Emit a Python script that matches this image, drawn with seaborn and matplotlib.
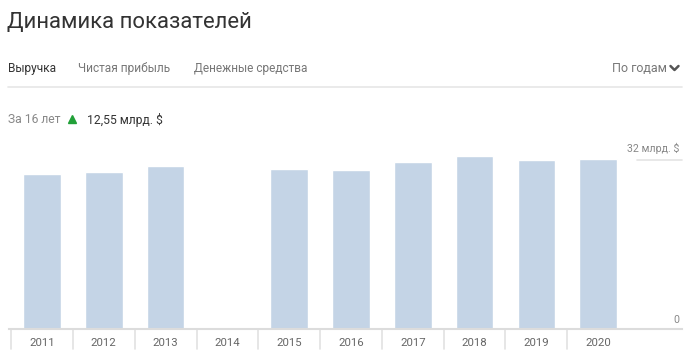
import matplotlib
matplotlib.use("Agg")
import matplotlib.pyplot as plt
from matplotlib.lines import Line2D
import numpy as np
import pandas as pd
import seaborn as sns

# ---- data ----
years = ["2011", "2012", "2013", "2014", "2015", "2016", "2017", "2018", "2019", "2020"]
revenue = [29.25, 29.68, 30.87, np.nan, 30.24, 30.06, 31.62, 32.7, 32.0, 32.13]
tabs = ["Выручка", "Чистая прибыль", "Денежные средства"]
title = "Динамика показателей"
period_label = "По годам"
summary_label = "За 16 лет"
summary_value = "12,55 млрд. $"
top_label = "32 млрд. $"
zero_label = "0"
y_top_value = 32

sns.set_theme(style="white")
plt.rcParams["font.family"] = ["Roboto", "DejaVu Sans"]

W, H = 700, 359
fig = plt.figure(figsize=(W / 100, H / 100), dpi=100)
fig.patch.set_facecolor("white")

def fx(x):
    return x / W

def fy(y):
    return 1 - y / H

base_px = 329.3
top_px = 140.0
ax = fig.add_axes([fx(9), (H - base_px) / H, (682 - 9) / W, (base_px - top_px) / H])

df = pd.DataFrame({"year": years, "value": revenue})
sns.barplot(data=df, x="year", y="value", order=years, color="#c4d4e6",
            saturation=1, width=0.607, errorbar=None, ax=ax)

px_per_unit = (base_px - 159.7) / y_top_value
ax.set_ylim(0, (base_px - top_px) / px_per_unit)
ax.set_xlim(-0.534, 10.356)

for s in ["top", "right", "left"]:
    ax.spines[s].set_visible(False)
ax.spines["bottom"].set_color("#dcdcdc")
ax.spines["bottom"].set_linewidth(1.5)
ax.set_yticks([])
ax.set_xlabel("")
ax.set_ylabel("")
ax.set_xticks(range(len(years)))
ax.set_xticklabels(years, color="#666666", fontsize=8.2)
ax.tick_params(axis="x", length=0, pad=6)

# slot separators below axis
trans = ax.get_xaxis_transform()
sep_h = 20 / (base_px - top_px)
for b in np.arange(-0.5, len(years) - 1, 1.0):
    ax.plot([b, b], [0, -sep_h], transform=trans, color="#e2e2e2", lw=1.2, clip_on=False)

# top reference line
ax.plot([9.63, 10.356], [y_top_value, y_top_value], color="#e4e4e4", lw=1.2, clip_on=False)
ax.text(10.32, y_top_value + 1.0, top_label, ha="right", va="bottom", color="#888888", fontsize=7.7)
ax.text(10.32, 0.9, zero_label, ha="right", va="bottom", color="#888888", fontsize=7.7)

# header texts
fig.text(fx(7), fy(22), title, ha="left", va="center", color="#333333", fontsize=15.9)
tab_x = [8, 78, 194]
tab_colors = ["#333333", "#777777", "#777777"]
for t, x, c in zip(tabs, tab_x, tab_colors):
    fig.text(fx(x), fy(68.5), t, ha="left", va="center", color=c, fontsize=8.6)
fig.text(fx(666.5), fy(68.5), period_label, ha="right", va="center", color="#777777", fontsize=9.0)
fig.add_artist(Line2D([fx(670.5), fx(674.5), fx(678.5)], [fy(66), fy(70), fy(66)],
                      color="#555555", lw=1.8, transform=fig.transFigure))
fig.add_artist(Line2D([fx(8), fx(682)], [fy(87.3), fy(87.3)], color="#e6e6e6", lw=1.2,
                      transform=fig.transFigure))

fig.text(fx(8), fy(119.5), summary_label, ha="left", va="center", color="#888888", fontsize=8.7)
fig.add_artist(Line2D([fx(71.5)], [fy(119)], marker="^", markersize=6, color="#21a038",
                      linestyle="none", transform=fig.transFigure))
fig.text(fx(87), fy(119.5), summary_value, ha="left", va="center", color="#333333", fontsize=8.7)

fig.savefig("out.png", dpi=100, facecolor="white")
